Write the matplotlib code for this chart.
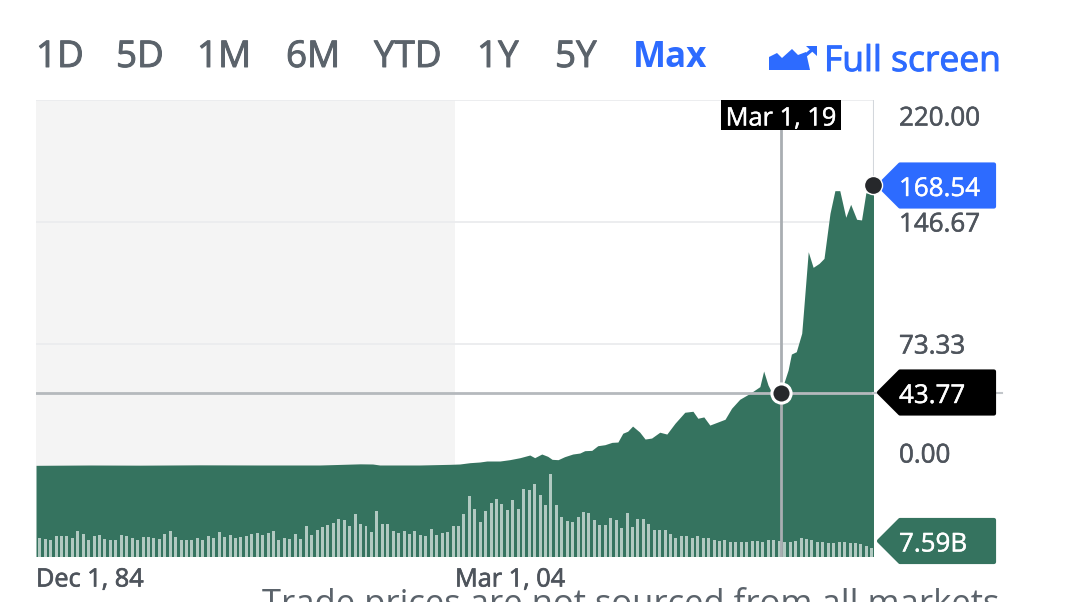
import matplotlib
matplotlib.use("Agg")
import matplotlib.pyplot as plt
import matplotlib.patheffects as pe
from matplotlib.patches import Polygon, Rectangle

plt.rcParams['font.family'] = ['Open Sans', 'DejaVu Sans']

range_tabs = ["1D", "5D", "1M", "6M", "YTD", "1Y", "5Y"]
active_tab = "Max"
fullscreen_label = "Full screen"
date_ticks = ["Dec 1, 84", "Mar 1, 04"]
date_tick_quarters = [0, 77]
price_ticks = [220.00, 146.67, 73.33, 0.00]
cursor_date = "Mar 1, 19"
cursor_quarter = 136.9
cursor_price = 43.77
last_price = 168.54
last_volume = "7.59B"
footnote = "Trade prices are not sourced from all markets"

# Quarters since Dec 1984 and the closing price read at that quarter
price_quarter = [0, 10, 19.1, 30.1, 41.2, 52.2, 59.6, 61.9, 63.2, 70.6, 76.1, 77.9, 79.8, 81.6,
                 82.9, 85.3, 87.1, 89, 90.8, 91.7, 93, 94.1, 94.9, 96, 97.2, 98.7, 100, 100.9,
                 102.2, 103.3, 104.6, 105.9, 107, 107.9, 108.8, 109.7, 111, 112, 113.2, 114.7,
                 116, 117.5, 119.3, 120.8, 121.7, 122.8, 123.9, 126.7, 127.9, 129.4, 131.3,
                 133.1, 133.8, 134.6, 135.3, 136.9, 137.7, 138.3, 138.9, 139.8, 140.8, 141.1,
                 142, 142.9, 144, 144.9, 146, 146.9, 147.8, 148.9, 149.8, 150.9, 151.8, 152.6, 154]
price_values = [0.4, 0.6, 0.5, 0.7, 0.6, 0.6, 1.3, 1.2, 0.6, 0.6, 1.0, 1.2, 2.0, 2.4,
                3.0, 3.0, 3.8, 5.0, 6.6, 5.0, 7.2, 5.8, 4.0, 3.8, 5.6, 7.2, 7.8, 9.2,
                9.4, 12.2, 12.8, 14.2, 14.4, 19.7, 20.9, 24.0, 20.4, 16.2, 16.8, 20.3,
                19.2, 25.7, 32.3, 32.9, 28.7, 29.5, 24.6, 28.1, 34.7, 40.1, 43.7,
                47.7, 57.1, 48.7, 44.1, 43.77, 51.7, 57.7, 67.3, 68.7, 79.8, 91.8,
                128.8, 119.4, 121.8, 124.8, 151.9, 165.5, 165.5, 149.5, 157.3, 148.3, 147.9, 164.3, 163.0]

# Quarterly volume bars, in relative height units
volume_units = [19, 17.7, 16.3, 20.3, 20.3, 20.3, 19, 25.3, 23, 17, 21, 21.3, 18, 16.3, 17, 21.7,
                20.3, 18.3, 16.7, 19.3, 19.3, 18.3, 18, 23, 26, 19.3, 17, 17, 17, 18.7, 17, 20.3,
                18.3, 24.3, 19.7, 22,
                19, 20, 20.7, 22.7, 24, 22, 24, 26, 16.3, 19, 18, 23, 17.3, 30.7, 21.3, 27, 29.3,
                31.3, 34, 38, 37, 31, 42.7, 32.3, 30.7, 24.7, 45.3, 32.7, 32.3, 26, 23.7, 25.7,
                23, 26, 22,
                21, 27.7, 22, 23.7, 24.3, 30.3, 30.3, 43, 61, 47.7, 34.3, 45.7, 53.3, 57.3, 53,
                46.7, 56.7, 47.3, 68, 66.7, 72.7, 62, 52, 82.3, 52, 39.3, 35.3, 35, 39.7, 44.3,
                43.3, 36.7, 31.7, 31.7, 38.7, 37,
                29, 43.7, 29.3, 37.3, 37.3, 33, 26.3, 26.7, 26.7, 23, 19, 21, 20.7, 19, 20.3, 19,
                19, 17, 16, 16.7, 14.7, 14.3, 14.7, 15, 15.7, 15.3, 14.3, 16.7, 16.3, 15.7, 14.3,
                14.3, 16, 19, 17.3, 16.3, 14.7, 14.3, 13.3, 13.3, 14.3, 14.3, 13.3, 13.3, 12.3,
                10.7, 9]

GREEN = "#35735F"
BLUE = "#2D6BFF"
GREY = "#5B636B"
LABEL = "#4E545C"


def heavy(color, w=0.7):
    return [pe.withStroke(linewidth=w, foreground=color)]


W, H = 1082, 602
fig = plt.figure(figsize=(W / 100, H / 100), dpi=100, facecolor="white")
L, R, T, B = 36, 873.5, 100, 556.5
ax = fig.add_axes([L / W, 1 - B / H, (R - L) / W, (B - T) / H])
ax.set_xlim(0, 154)
ax.set_ylim(-54.4, 220)
ax.axis("off")

ax.add_patch(Rectangle((0, 0), 77, 220, color="#F4F4F4", lw=0, zorder=0))
for p in price_ticks[:3]:
    ax.axhline(p, color="#EBECEE", lw=1.3, zorder=1)
ax.fill_between(price_quarter, -54.4, price_values, color=GREEN, lw=0, zorder=2)
ax.axvline(154, ymin=0, ymax=1, color="#D3D7DC", lw=1.5, zorder=1)

vol_ax = ax.twinx()
vol_ax.set_ylim(0, B - T)
vol_ax.axis("off")
vol_ax.bar([i + 0.68 for i in range(len(volume_units))], volume_units, width=0.55,
           color="white", alpha=0.62, lw=0, zorder=3)
vol_ax.axvline(cursor_quarter, color="#A9AEB2", lw=2, zorder=4)
vol_ax.plot([0, 154], [(cursor_price + 54.4) * (B - T) / 274.4] * 2, color="#B5B9BD", lw=2, zorder=4)

ov = fig.add_axes([0, 0, 1, 1])
ov.set_xlim(0, W)
ov.set_ylim(H, 0)
ov.axis("off")
ov.patch.set_alpha(0)

# range selector
tab_x = [36, 116, 197, 286, 374, 477, 555]
for lab, x in zip(range_tabs, tab_x):
    ov.text(x, 58, lab, color=GREY, fontsize=26.5, va="center", ha="left", path_effects=heavy(GREY))
ov.text(633, 58, active_tab, color=BLUE, fontsize=25.2, va="center", ha="left", fontweight="bold")
ov.text(824, 62, fullscreen_label, color=BLUE, fontsize=25.5, va="center", ha="left", path_effects=heavy(BLUE))

# full screen icon
ov.add_patch(Polygon([(769, 70), (769, 57), (777, 53), (782, 58), (792, 49), (798, 55), (806, 52), (810, 70)],
                     closed=True, color=BLUE, lw=0))
ov.plot([800, 813], [60, 49], color=BLUE, lw=2.4)
ov.add_patch(Polygon([(806, 46), (817, 46), (817, 56)], closed=True, color=BLUE, lw=0))

# axis labels
for lab, x in zip(date_ticks, [36, 455]):
    ov.text(x, 580, lab, color=LABEL, fontsize=18.2, va="center", ha="left", path_effects=heavy(LABEL, 0.5))
for val, y in zip(price_ticks, [119, 225, 347, 456]):
    ov.text(899, y, f"{val:.2f}", color=LABEL, fontsize=18.7, va="center", ha="left", path_effects=heavy(LABEL, 0.4))

# horizontal cursor beyond the plot
ov.plot([873, 1002], [392.7, 392.7], color="#C2C6CA", lw=1.5, zorder=1)


def tag(cy, color, text):
    pts = [(879, cy), (900, cy - 21), (994, cy - 21), (994, cy + 21), (900, cy + 21)]
    ov.add_patch(Polygon(pts, closed=True, facecolor=color, edgecolor=color, lw=3, joinstyle="round", zorder=3))
    ov.text(899, cy + 4, text, color="white", fontsize=18.7, va="center", ha="left", zorder=4,
            path_effects=heavy("white", 0.3))


tag(185.5, BLUE, f"{last_price:.2f}")
tag(392.5, "black", f"{cursor_price:.2f}")
tag(541, GREEN, last_volume)

# date flag
ov.add_patch(Rectangle((721, 100), 120, 30, color="black", lw=0, zorder=3))
ov.text(781, 119, cursor_date, color="white", fontsize=18.3, va="center", ha="center", zorder=4,
        path_effects=heavy("white", 0.3))

# cursor dots
ov.scatter([781], [392.7], s=190, color="#26282B", edgecolor="white", linewidth=2.2, zorder=6)
ov.scatter([873], [185], s=170, color="#26282B", edgecolor="white", linewidth=1, zorder=6)

ov.text(262, 614, footnote, color=GREY, fontsize=24.9, va="baseline", ha="left")

fig.savefig("out.png", dpi=100)
